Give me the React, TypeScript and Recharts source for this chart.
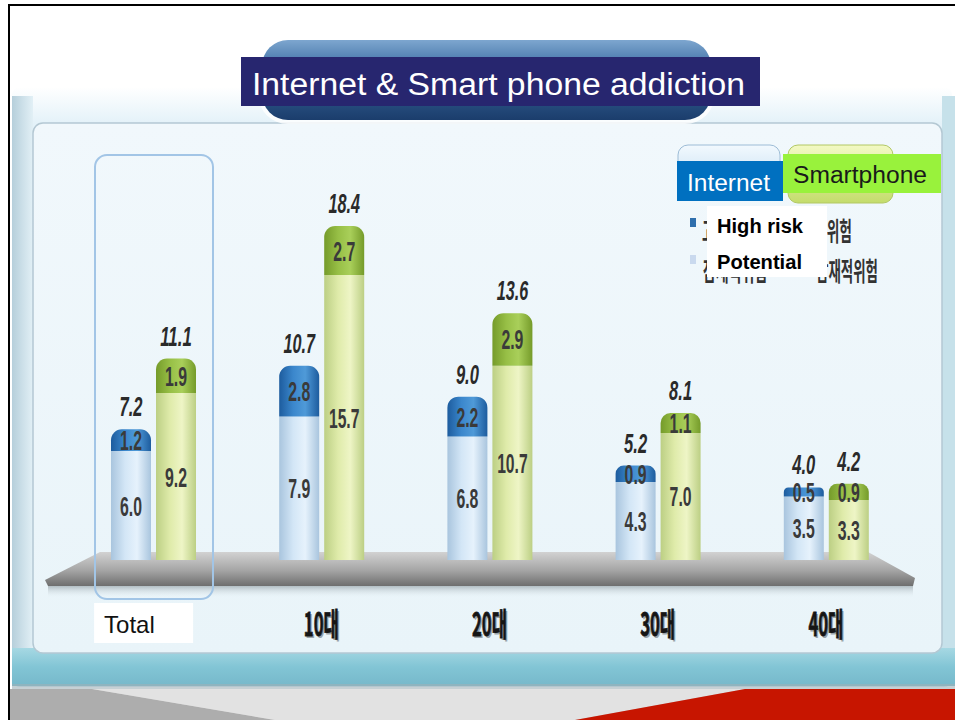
import React from "react";
import { BarChart, Bar, XAxis, YAxis, LabelList } from "recharts";

// values
const categories = ["Total", "10대", "20대", "30대", "40대"];
const internetPotential = [6.0, 7.9, 6.8, 4.3, 3.5];
const internetHighRisk = [1.2, 2.8, 2.2, 0.9, 0.5];
const internetTotal = [7.2, 10.7, 9.0, 5.2, 4.0];
const phonePotential = [9.2, 15.7, 10.7, 7.0, 3.3];
const phoneHighRisk = [1.9, 2.7, 2.9, 1.1, 0.9];
const phoneTotal = [11.1, 18.4, 13.6, 8.1, 4.2];

const data = categories.map((cat, i) => ({
  cat,
  netPot: internetPotential[i],
  netHigh: internetHighRisk[i],
  netTotal: internetTotal[i],
  phonePot: phonePotential[i],
  phoneHigh: phoneHighRisk[i],
  phoneTotal: phoneTotal[i],
}));

const SANS = "'Liberation Sans', Arial, sans-serif";
const KR = "'Noto Sans CJK KR', 'Noto Sans', sans-serif";

const numWidth = (s: string) => s.replace(".", "").length * 8.5 + 5;

const box = (props: any) => {
  const vb = props.viewBox && props.viewBox.width !== undefined ? props.viewBox : props;
  return { x: Number(vb.x), y: Number(vb.y), width: Number(vb.width), height: Number(vb.height) };
};

const InnerLabel = (props: any) => {
  const { x, y, width, height } = box(props);
  const s = Number(props.value).toFixed(1);
  return (
    <text
      x={x + width / 2}
      y={y + height / 2 + 10}
      textAnchor="middle"
      fontFamily={SANS}
      fontSize={28}
      fontWeight="bold"
      fill="#3a3a3a"
      textLength={numWidth(s)}
      lengthAdjust="spacingAndGlyphs"
    >
      {s}
    </text>
  );
};

const TopLabel = (props: any) => {
  const { x, y, width } = box(props);
  const s = Number(props.value).toFixed(1);
  return (
    <text
      x={x + width / 2}
      y={y - 13}
      textAnchor="middle"
      fontFamily={SANS}
      fontSize={28}
      fontStyle="italic"
      fontWeight="bold"
      fill="#2a2a2a"
      textLength={numWidth(s) + 1}
      lengthAdjust="spacingAndGlyphs"
    >
      {s}
    </text>
  );
};

const CatTick = (props: any) => {
  const { x, y, payload } = props;
  if (payload.value === "Total") {
    return (
      <g>
        <rect x={x - 59} y={y + 43} width={99} height={40} fill="#ffffff" />
        <text x={x - 49} y={y + 73} fontFamily={SANS} fontSize={24} fill="#111">
          Total
        </text>
      </g>
    );
  }
  return (
    <g>
      <text
        x={x + 1.5}
        y={y + 77.5}
        textAnchor="middle"
        fontFamily={KR}
        fontWeight="bold"
        fontSize={32}
        fill="#9aa4aa"
        textLength={35}
        lengthAdjust="spacingAndGlyphs"
      >
        {payload.value}
      </text>
      <text
        x={x}
        y={y + 76}
        textAnchor="middle"
        fontFamily={KR}
        fontWeight="bold"
        fontSize={32}
        fill="#151515"
        stroke="#151515"
        strokeWidth={0.8}
        textLength={35}
        lengthAdjust="spacingAndGlyphs"
      >
        {payload.value}
      </text>
    </g>
  );
};

const hGrad = (id: string, edge: string, mid: string, light: string) => (
  <linearGradient id={id} x1="0" y1="0" x2="1" y2="0">
    <stop offset="0%" stopColor={edge} />
    <stop offset="35%" stopColor={mid} />
    <stop offset="65%" stopColor={light} />
    <stop offset="100%" stopColor={edge} />
  </linearGradient>
);

function Backdrop() {
  return (
    <svg width={955} height={720} style={{ position: "absolute", left: 0, top: 0 }}>
      <defs>
        <linearGradient id="outerG" x1="0" y1="0" x2="0" y2="1">
          <stop offset="0%" stopColor="#ffffff" />
          <stop offset="6%" stopColor="#e4f2f9" />
          <stop offset="100%" stopColor="#d3e7f0" />
        </linearGradient>
        <linearGradient id="sideG" x1="0" y1="0" x2="1" y2="0">
          <stop offset="0%" stopColor="#b6cfdb" />
          <stop offset="100%" stopColor="#e2f0f6" />
        </linearGradient>
        <linearGradient id="tealG" x1="0" y1="0" x2="0" y2="1">
          <stop offset="0%" stopColor="#a6d8e3" />
          <stop offset="50%" stopColor="#82c5d5" />
          <stop offset="100%" stopColor="#76b8ca" />
        </linearGradient>
        <linearGradient id="innerG" x1="0" y1="0" x2="0" y2="1">
          <stop offset="0%" stopColor="#f1f8fc" />
          <stop offset="100%" stopColor="#e9f4f9" />
        </linearGradient>
        <linearGradient id="floorG" x1="0" y1="0" x2="0" y2="1">
          <stop offset="0%" stopColor="#d2d2d2" />
          <stop offset="55%" stopColor="#a4a4a4" />
          <stop offset="100%" stopColor="#6e6e6e" />
        </linearGradient>
        <linearGradient id="shadowG" x1="0" y1="0" x2="0" y2="1">
          <stop offset="0%" stopColor="#9aa6ac" stopOpacity={0.7} />
          <stop offset="100%" stopColor="#e9f4f9" stopOpacity={0} />
        </linearGradient>
        <linearGradient id="pillG" x1="0" y1="0" x2="0" y2="1">
          <stop offset="0%" stopColor="#7da6cf" />
          <stop offset="35%" stopColor="#3d6ea3" />
          <stop offset="100%" stopColor="#1b3d6c" />
        </linearGradient>
        <linearGradient id="bluePillG" x1="0" y1="0" x2="0" y2="1">
          <stop offset="0%" stopColor="#f2f9fe" />
          <stop offset="100%" stopColor="#b7d6ee" />
        </linearGradient>
        <linearGradient id="greenPillG" x1="0" y1="0" x2="0" y2="1">
          <stop offset="0%" stopColor="#f3f9c4" />
          <stop offset="100%" stopColor="#c4dc6c" />
        </linearGradient>
      </defs>

      {/* slide frame */}
      <rect x={9} y={5} width={980} height={760} fill="#ffffff" stroke="#000" strokeWidth={2} />

      {/* outer panel */}
      <rect x={12} y={87} width={940} height={600} rx={8} fill="url(#outerG)" />
      <rect x={12} y={96} width={21} height={556} fill="url(#sideG)" />
      <rect x={942} y={96} width={13} height={556} fill="#c6e1ea" />
      <rect x={12} y={648} width={943} height={38} fill="url(#tealG)" />
      <rect x={12} y={684} width={943} height={6} fill="#9fb1b8" opacity={0.6} />

      {/* inner panel */}
      <rect x={33} y={123} width={909} height={530} rx={10} fill="url(#innerG)" stroke="#b4c8d3" strokeWidth={1.5} />

      {/* bottom strip */}
      <rect x={10} y={689} width={945} height={31} fill="#c8c8c8" />
      <polygon points="10,689 92,689 275,720 10,720" fill="#adadad" />
      <polygon points="92,689 745,689 575,720 275,720" fill="#e2e2e2" />
      <polygon points="745,689 955,689 955,720 575,720" fill="#c71500" />

      {/* title pill */}
      <rect x={258} y={36} width={457} height={88} rx={30} fill="#ffffff" opacity={0.8} />
      <rect x={262} y={40} width={449} height={80} rx={26} fill="url(#pillG)" />
      <rect x={241} y={57} width={519} height={49} fill="#27266f" />
      <text
        x={252}
        y={95}
        fontFamily={SANS}
        fontSize={31}
        fill="#ffffff"
        textLength={493}
        lengthAdjust="spacingAndGlyphs"
      >
        Internet &amp; Smart phone addiction
      </text>

      {/* floor */}
      <polygon points="100,552 868,552 915,578 913,586 48,586 45,580" fill="url(#floorG)" />
      <rect x={48} y={586} width={865} height={12} fill="url(#shadowG)" />

      {/* highlight around Total */}
      <rect x={95} y={155} width={118} height={444} rx={12} fill="none" stroke="#a2c5e6" strokeWidth={2} />

      {/* legend */}
      <rect x={678} y={145} width={102} height={55} rx={10} fill="url(#bluePillG)" stroke="#9dbcd6" />
      <rect x={788} y={145} width={105} height={58} rx={10} fill="url(#greenPillG)" stroke="#b2c865" />
      <rect x={677} y={161} width={106} height={40} fill="#0070c0" />
      <text x={687} y={191} fontFamily={SANS} fontSize={23} fill="#ffffff" textLength={83} lengthAdjust="spacingAndGlyphs">
        Internet
      </text>
      <rect x={783} y={154} width={158} height={39} fill="#99f23c" />
      <text x={793} y={183} fontFamily={SANS} fontSize={23} fill="#1a1a1a" textLength={134} lengthAdjust="spacingAndGlyphs">
        Smartphone
      </text>

      <rect x={690} y={218} width={6} height={9} fill="#2f6fad" />
      <rect x={690} y={255} width={6} height={9} fill="#c9d9ee" />
      <text x={702} y={241} fontFamily={KR} fontWeight="bold" fontSize={26} fill="#333" textLength={38} lengthAdjust="spacingAndGlyphs">
        고위험
      </text>
      <text x={703} y={281} fontFamily={KR} fontWeight="bold" fontSize={26} fill="#333" textLength={64} lengthAdjust="spacingAndGlyphs">
        잠재적위험
      </text>
      <text x={852} y={241} textAnchor="end" fontFamily={KR} fontWeight="bold" fontSize={26} fill="#333" textLength={38} lengthAdjust="spacingAndGlyphs">
        고위험
      </text>
      <text x={878} y={281} textAnchor="end" fontFamily={KR} fontWeight="bold" fontSize={26} fill="#333" textLength={62} lengthAdjust="spacingAndGlyphs">
        잠재적위험
      </text>
      <rect x={707} y={206} width={120} height={71} fill="#ffffff" />
      <text x={717} y={233} fontFamily={SANS} fontWeight="bold" fontSize={20} fill="#000" textLength={86} lengthAdjust="spacingAndGlyphs">
        High risk
      </text>
      <text x={717} y={269} fontFamily={SANS} fontWeight="bold" fontSize={20} fill="#000" textLength={85} lengthAdjust="spacingAndGlyphs">
        Potential
      </text>
    </svg>
  );
}

export default function App() {
  return (
    <div
      style={{
        position: "fixed",
        left: 0,
        top: 0,
        width: 955,
        height: 720,
        overflow: "hidden",
        background: "#ffffff",
      }}
    >
      <Backdrop />
      <div style={{ position: "absolute", left: 0, top: 0 }}>
        <BarChart
          width={955}
          height={720}
          data={data}
          margin={{ top: 197, right: 45, left: 69, bottom: 80 }}
          barGap={5}
          barSize={40}
        >
          <defs>
            {hGrad("netPotG", "#a9c5de", "#d3e6f6", "#e6f2fc")}
            {hGrad("netHighG", "#1d5c9e", "#3b87cc", "#4f9ad8")}
            {hGrad("phonePotG", "#bccf84", "#dfebaa", "#eef5c6")}
            {hGrad("phoneHighG", "#759b2a", "#97bf46", "#a9cf5a")}
          </defs>
          <XAxis
            dataKey="cat"
            axisLine={false}
            tickLine={false}
            tickSize={0}
            tickMargin={0}
            height={80}
            interval={0}
            tick={<CatTick />}
          />
          <YAxis hide domain={[0, 20]} />
          <Bar dataKey="netPot" stackId="net" fill="url(#netPotG)" isAnimationActive={false}>
            <LabelList dataKey="netPot" content={InnerLabel} />
          </Bar>
          <Bar dataKey="netHigh" stackId="net" fill="url(#netHighG)" radius={[11, 11, 0, 0]} isAnimationActive={false}>
            <LabelList dataKey="netHigh" content={InnerLabel} />
            <LabelList dataKey="netTotal" content={TopLabel} />
          </Bar>
          <Bar dataKey="phonePot" stackId="phone" fill="url(#phonePotG)" isAnimationActive={false}>
            <LabelList dataKey="phonePot" content={InnerLabel} />
          </Bar>
          <Bar dataKey="phoneHigh" stackId="phone" fill="url(#phoneHighG)" radius={[11, 11, 0, 0]} isAnimationActive={false}>
            <LabelList dataKey="phoneHigh" content={InnerLabel} />
            <LabelList dataKey="phoneTotal" content={TopLabel} />
          </Bar>
        </BarChart>
      </div>
    </div>
  );
}
